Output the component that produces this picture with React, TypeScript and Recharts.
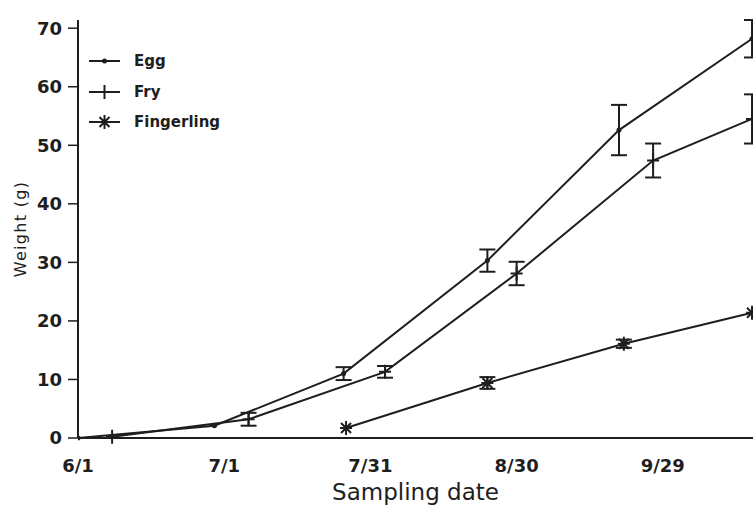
import { LineChart, Line, XAxis, YAxis, ErrorBar, Legend } from "recharts";

// days counted from 6/1
const xTicks = [0, 30, 60, 90, 120];
const xTickLabels = ["6/1", "7/1", "7/31", "8/30", "9/29"];
const yTicks = [0, 10, 20, 30, 40, 50, 60, 70];

const eggDays = [0, 28, 54.5, 84, 111, 138.3];
const eggWeight = [0, 2.1, 11.0, 30.3, 52.6, 68.2];
const eggError = [0, 0, 1.1, 1.9, 4.3, 3.2];

const fryDays = [7, 35, 63, 90, 118, 138.3];
const fryWeight = [0.2, 3.2, 11.3, 28.1, 47.4, 54.5];
const fryError = [0, 1.1, 1.0, 2.0, 2.9, 4.2];

const fingerlingDays = [55, 84, 112, 138.3];
const fingerlingWeight = [1.7, 9.4, 16.1, 21.4];
const fingerlingError = [0, 1.0, 0.7, 0];

const seriesNames = ["Egg", "Fry", "Fingerling"];

const INK = "#1e1e1e";
const FONT = "'DejaVu Sans', sans-serif";

const toRows = (days: number[], w: number[], e: number[]) =>
  days.map((d, i) => ({ day: d, weight: w[i], err: e[i] }));

const eggData = toRows(eggDays, eggWeight, eggError);
const fryData = toRows(fryDays, fryWeight, fryError);
const fingerlingData = toRows(fingerlingDays, fingerlingWeight, fingerlingError);

const eggMark = (cx: number, cy: number) => (
  <circle cx={cx} cy={cy} r={2.5} fill={INK} />
);
const fryMark = (cx: number, cy: number) => (
  <path
    d={`M${cx - 6},${cy}H${cx + 6}M${cx},${cy - 7}V${cy + 7}`}
    stroke={INK}
    strokeWidth={2}
    fill="none"
  />
);
const starMark = (cx: number, cy: number) => (
  <path
    d={`M${cx},${cy - 7}V${cy + 7}M${cx - 5},${cy - 5}L${cx + 5},${cy + 5}M${cx - 5},${cy + 5}L${cx + 5},${cy - 5}M${cx - 6},${cy}H${cx + 6}`}
    stroke={INK}
    strokeWidth={2}
    fill="none"
  />
);

const marks = [eggMark, fryMark, starMark];

const dotFor = (i: number, name: string) => (p: any) => {
  if (p.cx == null || p.cy == null) return <g key={`${name}-${p.index}`} />;
  return <g key={`${name}-${p.index}`}>{marks[i](p.cx, p.cy)}</g>;
};

const LegendBox = () => (
  <div style={{ fontFamily: FONT, fontSize: 15, fontWeight: "bold", color: INK }}>
    {seriesNames.map((n, i) => (
      <div
        key={n}
        style={{ display: "flex", alignItems: "center", height: 30.5 }}
      >
        <svg width={40} height={20}>
          <line x1={4} y1={10} x2={35} y2={10} stroke={INK} strokeWidth={2} />
          {marks[i](19.5, 10)}
        </svg>
        <span style={{ marginLeft: 9 }}>{n}</span>
      </div>
    ))}
  </div>
);

export default function App() {
  return (
    <div style={{ position: "absolute", left: 0, top: 0, background: "#fff" }}>
      <LineChart
        width={753}
        height={508}
        margin={{ top: 20, right: 0, bottom: 0, left: 0 }}
      >
        <XAxis
          dataKey="day"
          type="number"
          domain={[0, 138.5]}
          ticks={xTicks}
          tickFormatter={(v: number) => xTickLabels[xTicks.indexOf(v)]}
          allowDataOverflow
          height={70}
          tickLine={false}
          tickSize={0}
          tickMargin={21}
          axisLine={{ stroke: INK, strokeWidth: 2 }}
          tick={{ fill: INK, fontSize: 18, fontWeight: "bold", fontFamily: FONT }}
          label={{
            value: "Sampling date",
            position: "insideBottom",
            offset: 8,
            fill: INK,
            fontSize: 23,
            fontFamily: FONT,
          }}
        />
        <YAxis
          type="number"
          domain={[0, 70]}
          ticks={yTicks}
          width={78}
          tickSize={10}
          tickMargin={6}
          axisLine={{ stroke: INK, strokeWidth: 2 }}
          tickLine={{ stroke: INK, strokeWidth: 1.5 }}
          tick={{ fill: INK, fontSize: 18, fontWeight: "bold", fontFamily: FONT }}
          label={{
            value: "Weight (g)",
            angle: -90,
            position: "insideLeft",
            offset: 20,
            fill: INK,
            fontSize: 16,
            fontFamily: FONT,
            style: { textAnchor: "middle", letterSpacing: 1.3 },
          }}
        />
        <Legend
          content={<LegendBox />}
          layout="horizontal"
          verticalAlign="middle"
          align="center"
          wrapperStyle={{ top: 46, left: 85, width: "auto" }}
        />
        <Line
          data={eggData}
          dataKey="weight"
          name="Egg"
          stroke={INK}
          strokeWidth={2}
          dot={dotFor(0, "egg")}
          activeDot={false}
          isAnimationActive={false}
        >
          <ErrorBar dataKey="err" width={8} stroke={INK} strokeWidth={2} direction="y" />
        </Line>
        <Line
          data={fryData}
          dataKey="weight"
          name="Fry"
          stroke={INK}
          strokeWidth={2}
          dot={dotFor(1, "fry")}
          activeDot={false}
          isAnimationActive={false}
        >
          <ErrorBar dataKey="err" width={8} stroke={INK} strokeWidth={2} direction="y" />
        </Line>
        <Line
          data={fingerlingData}
          dataKey="weight"
          name="Fingerling"
          stroke={INK}
          strokeWidth={2}
          dot={dotFor(2, "fingerling")}
          activeDot={false}
          isAnimationActive={false}
        >
          <ErrorBar dataKey="err" width={8} stroke={INK} strokeWidth={2} direction="y" />
        </Line>
      </LineChart>
    </div>
  );
}
